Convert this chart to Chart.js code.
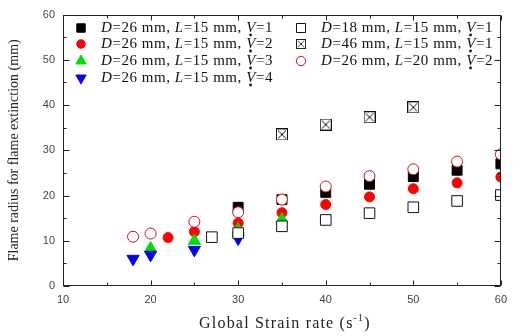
<!DOCTYPE html>
<html>
<head>
<meta charset="utf-8">
<script src="https://cdn.jsdelivr.net/npm/chart.js@4.4.0/dist/chart.umd.min.js"></script>
<style>
  html, body { margin: 0; padding: 0; background: #fff; }
  #wrap { width: 514px; height: 336px; }
</style>
</head>
<body>
<div id="wrap"><canvas id="chart"></canvas></div>
<script>
// strain rate (x) and flame radius (y) per series
var xV1 = [30, 35, 40, 45, 50, 55, 60];
var yV1 = [17.4, 19.1, 20.7, 22.5, 24.2, 25.6, 27.0];
var xV2 = [22, 25, 30, 35, 40, 45, 50, 55, 60];
var yV2 = [10.7, 12.0, 13.9, 16.2, 18.0, 19.7, 21.5, 22.8, 24.1];
var xV3 = [20, 25, 30, 35];
var yV3 = [8.3, 10.0, 12.5, 14.7];
var xV4 = [18, 20, 25, 30];
var yV4 = [6.0, 6.9, 8.0, 10.5];
var xD18 = [27, 30, 35, 40, 45, 50, 55, 60];
var yD18 = [10.8, 11.7, 13.2, 14.6, 16.1, 17.4, 18.8, 20.1];
var xD46 = [35, 40, 45, 50];
var yD46 = [33.5, 35.7, 37.3, 39.5];
var xL20 = [18, 20, 25, 30, 35, 40, 45, 50, 55, 60];
var yL20 = [10.9, 11.6, 14.2, 16.3, 19.1, 22.0, 24.3, 25.8, 27.5, 29.1];

// legend text parts: D, L, V*
var legD = ['26', '26', '26', '26', '18', '46', '26'];
var legL = ['15', '15', '15', '15', '15', '15', '20'];
var legV = ['1', '2', '3', '4', '1', '1', '2'];

var xTicks = [10, 20, 30, 40, 50, 60];
var yTicks = [0, 10, 20, 30, 40, 50, 60];

function pts(xs, ys) {
  return xs.map(function(x, i) { return { x: x, y: ys[i] }; });
}

// square with a cross inside
function crossBox() {
  var c = document.createElement('canvas');
  c.width = 12; c.height = 12;
  var g = c.getContext('2d');
  g.fillStyle = '#fff';
  g.fillRect(0, 0, 12, 12);
  g.strokeStyle = '#111';
  g.lineWidth = 1;
  g.strokeRect(0.5, 0.5, 11, 11);
  g.beginPath();
  g.moveTo(2, 2); g.lineTo(10, 10);
  g.moveTo(10, 2); g.lineTo(2, 10);
  g.stroke();
  return c;
}
var crossImg = crossBox();

var markers = [
  { style: 'rect', r: 7, fill: '#000', line: '#000', rot: 0 },
  { style: 'circle', r: 5, fill: '#ff0000', line: '#ff0000', rot: 0 },
  { style: 'triangle', r: 7, fill: '#00dd00', line: '#00dd00', rot: 0 },
  { style: 'triangle', r: 7, fill: '#0000ee', line: '#0000ee', rot: 180 },
  { style: 'rect', r: 7.5, fill: '#fff', line: '#111', rot: 0 },
  { style: crossImg, r: 6, fill: '#fff', line: '#111', rot: 0 },
  { style: 'circle', r: 5.5, fill: '#fff', line: '#cc1111', rot: 0 }
];

var series = [
  pts(xV1, yV1), pts(xV2, yV2), pts(xV3, yV3), pts(xV4, yV4),
  pts(xD18, yD18), pts(xD46, yD46), pts(xL20, yL20)
];
// drawing order, first = on top
var stackOrder = [6, 4, 5, 3, 2, 1, 0];

var datasets = series.map(function(d, i) {
  var m = markers[i];
  return {
    label: 'D=' + legD[i] + ' mm, L=' + legL[i] + ' mm, V*=' + legV[i],
    data: d,
    pointStyle: m.style,
    pointRadius: m.r,
    pointHoverRadius: m.r,
    pointRotation: m.rot,
    backgroundColor: m.fill,
    borderColor: m.line,
    borderWidth: 1,
    clip: 0,
    order: stackOrder.indexOf(i)
  };
});

function drawMarker(ctx, i, x, y) {
  var m = markers[i];
  ctx.save();
  ctx.fillStyle = m.fill;
  ctx.strokeStyle = m.line;
  ctx.lineWidth = 1;
  if (m.style === crossImg) {
    ctx.drawImage(crossImg, Math.round(x - 5), Math.round(y - 5), 10, 10);
  } else {
    Chart.helpers.drawPoint(ctx, {
      pointStyle: m.style, radius: m.r * 0.85, rotation: m.rot, borderWidth: 1
    }, x, y);
  }
  ctx.restore();
}

// box, inward ticks, legend and x title
var frame = {
  id: 'frame',
  afterDraw: function(chart) {
    var ctx = chart.ctx, a = chart.chartArea;
    var xs = chart.scales.x, ys = chart.scales.y;
    var L = Math.round(a.left) + 0.5, R = Math.round(a.right) - 0.5;
    var T = Math.round(a.top) + 0.5, B = Math.round(a.bottom) - 0.5;
    ctx.save();
    ctx.strokeStyle = '#222';
    ctx.lineWidth = 1;
    ctx.strokeRect(L, T, R - L, B - T);
    ctx.beginPath();
    var v, p, len;
    for (v = 10; v <= 60; v += 5) {
      p = Math.round(xs.getPixelForValue(v)) + 0.5;
      len = v % 10 === 0 ? 5 : 3;
      ctx.moveTo(p, B); ctx.lineTo(p, B - len);
      ctx.moveTo(p, T); ctx.lineTo(p, T + len);
    }
    for (v = 0; v <= 60; v += 5) {
      p = Math.round(ys.getPixelForValue(v)) + 0.5;
      len = v % 10 === 0 ? 6 : 3;
      ctx.moveTo(L, p); ctx.lineTo(L + len, p);
      ctx.moveTo(R, p); ctx.lineTo(R - len, p);
    }
    ctx.stroke();

    // legend, two columns
    var cols = [{ mx: 81, tx: 101 }, { mx: 301, tx: 321 }];
    var rowY = [28, 44, 61, 78];
    var place = [[0, 0], [0, 1], [0, 2], [0, 3], [1, 0], [1, 1], [1, 2]];
    var ital = 'italic 15px "Liberation Serif", serif';
    var norm = '15px "Liberation Serif", serif';
    ctx.textBaseline = 'middle';
    ctx.textAlign = 'left';
    for (var i = 0; i < 7; i++) {
      var c = cols[place[i][0]], y = rowY[place[i][1]];
      drawMarker(ctx, i, c.mx, y);
      var x = c.tx;
      var parts = [
        ['D', ital], ['=' + legD[i] + ' mm, ', norm],
        ['L', ital], ['=' + legL[i] + ' mm, ', norm],
        ['V', ital], ['=' + legV[i], norm]
      ];
      ctx.fillStyle = '#111';
      ctx.letterSpacing = '0.55px';
      for (var k = 0; k < parts.length; k++) {
        ctx.font = parts[k][1];
        ctx.fillText(parts[k][0], x, y);
        var w = ctx.measureText(parts[k][0]).width;
        if (parts[k][0] === 'V') {
          ctx.beginPath();
          ctx.arc(x + w * 0.45, y + 7, 1.4, 0, Math.PI * 2);
          ctx.fill();
        }
        x += w;
      }
    }

    // x axis title with superscript
    ctx.fillStyle = '#222';
    ctx.textBaseline = 'alphabetic';
    ctx.letterSpacing = '1.2px';
    ctx.font = '16px "Liberation Serif", serif';
    var t1 = 'Global Strain rate (s', t2 = '-1', t3 = ')';
    var w1 = ctx.measureText(t1).width, w3 = ctx.measureText(t3).width;
    ctx.font = '10px "Liberation Serif", serif';
    var w2 = ctx.measureText(t2).width;
    var tx = (a.left + a.right) / 2 - (w1 + w2 + w3) / 2 + 3, ty = 328;
    ctx.font = '16px "Liberation Serif", serif';
    ctx.fillText(t1, tx, ty);
    ctx.font = '10px "Liberation Serif", serif';
    ctx.fillText(t2, tx + w1, ty - 7);
    ctx.font = '16px "Liberation Serif", serif';
    ctx.fillText(t3, tx + w1 + w2, ty);
    ctx.restore();
  }
};

new Chart(document.getElementById('chart'), {
  type: 'scatter',
  data: { datasets: datasets },
  options: {
    responsive: true,
    maintainAspectRatio: false,
    animation: false,
    layout: { padding: { top: 9, right: 5, left: 0, bottom: 0 } },
    plugins: { legend: { display: false }, tooltip: { enabled: false } },
    scales: {
      x: {
        type: 'linear',
        min: 10, max: 60,
        afterBuildTicks: function(s) { s.ticks = xTicks.map(function(v) { return { value: v }; }); },
        afterFit: function(s) { s.height = 50; },
        grid: { display: false, drawTicks: false },
        border: { display: false },
        ticks: { padding: 7, color: '#444', font: { family: '"Liberation Sans", Arial, sans-serif', size: 11 } },
        title: { display: false }
      },
      y: {
        type: 'linear',
        min: 0, max: 60,
        afterBuildTicks: function(s) { s.ticks = yTicks.map(function(v) { return { value: v }; }); },
        afterFit: function(s) { s.width = 63; },
        grid: { display: false, drawTicks: false },
        border: { display: false },
        ticks: { padding: 8, color: '#444', font: { family: '"Liberation Sans", Arial, sans-serif', size: 11 } },
        title: {
          display: true,
          text: 'Flame radius for flame extinction (mm)',
          color: '#222',
          padding: { top: 6, bottom: 4 },
          font: { family: '"Liberation Serif", serif', size: 14 }
        }
      }
    }
  },
  plugins: [frame]
});
</script>
</body>
</html>
